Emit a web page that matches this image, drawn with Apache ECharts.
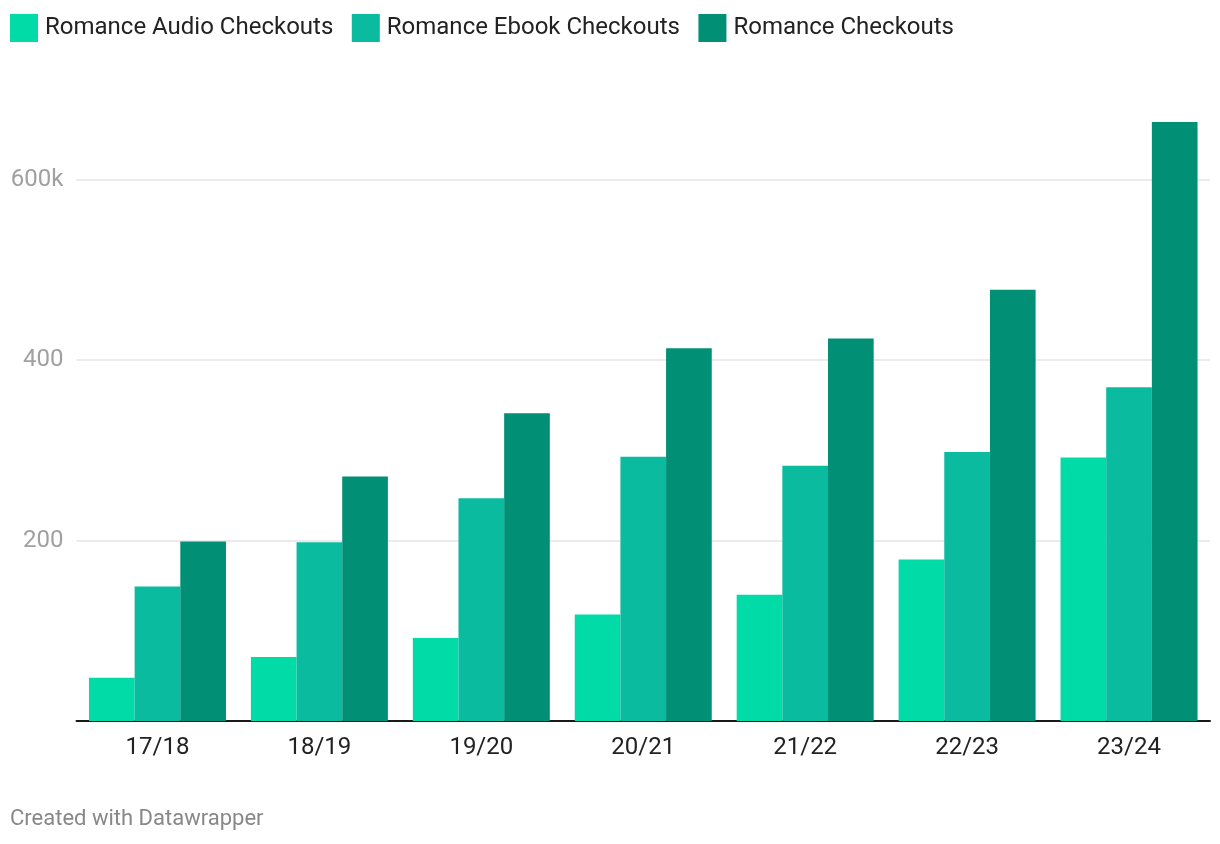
<!DOCTYPE html>
<html><head><meta charset="utf-8">
<script src="https://cdn.jsdelivr.net/npm/echarts@6/dist/echarts.min.js"></script>
<style>html,body{margin:0;padding:0;background:#fff}#c{width:1220px;height:844px}</style>
</head><body><div id="c"></div>
<script>
const categories = ['17/18','18/19','19/20','20/21','21/22','22/23','23/24'];
const audio = [48, 71, 92, 118, 140, 179, 292];
const ebook = [149, 198, 247, 293, 283, 298, 370];
const checkouts = [199, 271, 341, 413, 424, 478, 664];
const seriesNames = ['Romance Audio Checkouts','Romance Ebook Checkouts','Romance Checkouts'];
const colors = ['#00dba8','#0abb9f','#018f75'];

const chart = echarts.init(document.getElementById('c'), null, {renderer:'canvas'});
const font = 'Roboto, sans-serif';
chart.setOption({
  animation:false,
  color: colors,
  textStyle:{fontFamily:font},
  legend:{
    left:5, top:9, itemWidth:28, itemHeight:28, itemGap:18.5,
    icon:'rect',
    textStyle:{fontSize:24, color:'#222', fontFamily:font, padding:[0,0,0,2]},
    data: seriesNames
  },
  graphic:[{type:'text', left:10, top:808, style:{text:'Created with Datawrapper', fill:'#888', fontSize:22, fontFamily:font}}],
  grid:{left:76.5, right:10, top:89.4, bottom:123, containLabel:false},
  xAxis:{type:'category', data:categories,
    axisLine:{lineStyle:{color:'#1a1a1a', width:2}},
    axisTick:{show:false},
    axisLabel:{fontSize:24, color:'#222', margin:15, fontFamily:font}
  },
  yAxis:{type:'value', min:0, max:700, interval:200,
    axisLine:{show:false}, axisTick:{show:false},
    axisLabel:{fontSize:24, color:'#a0a0a0', margin:13, fontFamily:font, verticalAlign:'middle',
      formatter: v => v===600 ? '600k' : (v===200||v===400 ? String(v) : '')},
    splitLine:{lineStyle:{color:['transparent','#e4e4e4','#e4e4e4','#e4e4e4','transparent'], width:1.5}}
  },
  series:[
    {name:seriesNames[0], type:'bar', data:audio, barGap:'0%', barCategoryGap:'15.4%'},
    {name:seriesNames[1], type:'bar', data:ebook, barGap:'0%', barCategoryGap:'15.4%'},
    {name:seriesNames[2], type:'bar', data:checkouts, barGap:'0%', barCategoryGap:'15.4%'}
  ]
});
</script></body></html>
